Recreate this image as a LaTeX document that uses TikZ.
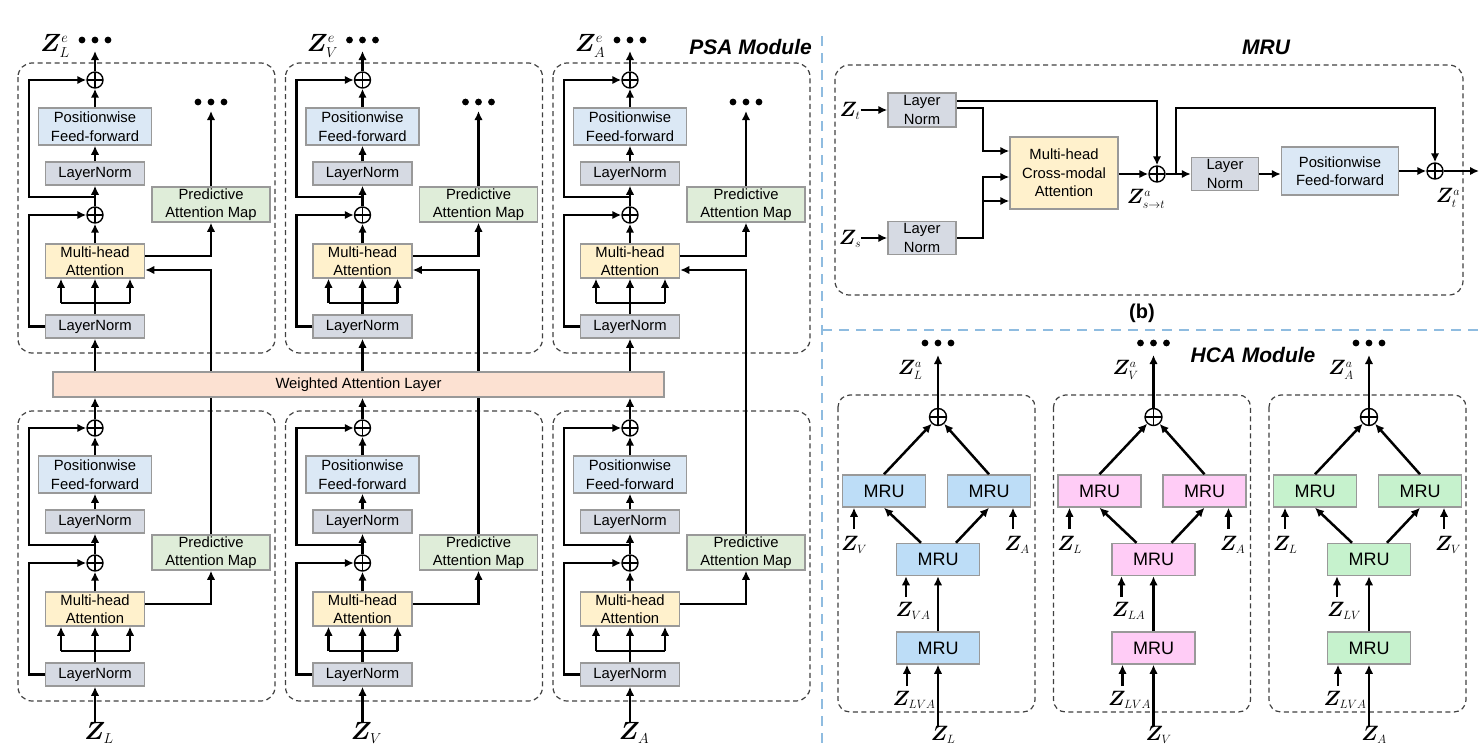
\documentclass[tikz,border=0pt]{standalone}
\usepackage{amsmath,amssymb,bm}
\usepackage{fontspec}
\setmainfont{Liberation Sans}
\usepackage{xcolor}
\usepackage{tikz}
\usetikzlibrary{arrows.meta,positioning,calc}

\DeclareMathSizes{24.88}{24.88}{14.4}{10}
\DeclareMathSizes{20.74}{20.74}{12}{9}

\definecolor{lnfill}{HTML}{D6DAE3}
\definecolor{fffill}{HTML}{DBE8F5}
\definecolor{mhfill}{HTML}{FFF1CC}
\definecolor{pamfill}{HTML}{DFEDD9}
\definecolor{walfill}{HTML}{FCE1D2}
\definecolor{boxline}{HTML}{999999}
\definecolor{sepblue}{HTML}{8FBCE0}
\definecolor{mrublue}{HTML}{BDDDF7}
\definecolor{mrupink}{HTML}{FFCCF6}
\definecolor{mrugreen}{HTML}{C6F2CD}

\begin{document}
\begin{tikzpicture}[
  x=1pt,y=-1pt,
  font=\fontsize{14.8}{18.5}\selectfont,
  blk/.style={draw=boxline,line width=1.5pt,align=center,inner sep=0pt},
  lnorm/.style={blk,fill=lnfill,minimum width=99pt,minimum height=23pt},
  ffwd/.style={blk,fill=fffill,minimum width=113pt,minimum height=37pt},
  mhatt/.style={blk,fill=mhfill,minimum width=99pt,minimum height=34pt},
  pmap/.style={blk,fill=pamfill,minimum width=118pt,minimum height=35pt},
  mru/.style={blk,minimum width=83pt,minimum height=32pt,font=\fontsize{18}{18}\selectfont},
  addop/.style={circle,draw,line width=1.4pt,minimum size=16pt,inner sep=0pt,
    path picture={\draw[line width=1.4pt] (path picture bounding box.north) -- (path picture bounding box.south)
      (path picture bounding box.west) -- (path picture bounding box.east);}},
  grp/.style={draw=black!75,line width=1.2pt,dash pattern=on 5pt off 3.5pt,rounded corners=14pt},
  sep/.style={draw=sepblue,line width=2.4pt,dash pattern=on 10pt off 7pt},
  arr/.style={-{Latex[length=9pt,width=8.5pt]},line width=2.5pt},
  wire/.style={line width=2.5pt},
  zbig/.style={inner sep=0pt,font=\fontsize{24.88}{25}\selectfont},
  zmid/.style={inner sep=0pt,font=\fontsize{20.74}{21}\selectfont},
  title/.style={inner sep=0pt,font=\fontsize{21}{21}\selectfont\bfseries\itshape}]
\useasboundingbox (0,0) rectangle (1484,747);

% PSA module
\foreach \n/\mo in {1/L,2/V,3/A}{
  \pgfmathsetmacro{\xm}{95+267.5*(\n-1)}
  \pgfmathsetmacro{\xp}{\xm+116}
  \foreach \bl/\yo in {T/0,B/348}{
    \draw[grp] (\xm-77,63+\yo) rectangle (\xm+180,353+\yo);
    \node[addop] (sumA\bl\n) at (\xm,80+\yo) {};
    \node[ffwd] (ff\bl\n) at (\xm,126.5+\yo) {Positionwise\\Feed-forward};
    \node[lnorm] (lnA\bl\n) at (\xm,173.5+\yo) {LayerNorm};
    \node[addop] (sumB\bl\n) at (\xm,215+\yo) {};
    \node[mhatt] (mha\bl\n) at (\xm,261+\yo) {Multi-head\\Attention};
    \node[lnorm] (lnB\bl\n) at (\xm,326.5+\yo) {LayerNorm};
    \node[pmap] (pam\bl\n) at (\xp,204.5+\yo) {Predictive\\Attention Map};
    \coordinate (jn\bl\n) at (\xm,197+\yo);
    \coordinate (skp\bl\n) at (\xm-66,197+\yo);
    \coordinate (spl\bl\n) at (\xm,303+\yo);
    \draw[arr] (ff\bl\n) -- (sumA\bl\n);
    \draw[arr] (lnA\bl\n) -- (ff\bl\n);
    \draw[arr] (sumB\bl\n) -- (lnA\bl\n);
    \draw[arr] (mha\bl\n) -- (sumB\bl\n);
    \draw[arr] (jn\bl\n) -- (skp\bl\n) |- (sumA\bl\n.west);
    \draw[arr] (lnB\bl\n.west) -- (lnB\bl\n.west -| skp\bl\n) |- (sumB\bl\n.west);
    \draw[wire] (lnB\bl\n) -- (spl\bl\n);
    \draw[wire] ([xshift=-34pt]spl\bl\n) -- ([xshift=35pt]spl\bl\n);
    \foreach \dx in {-34,0,35}
      \draw[arr] ([xshift=\dx pt]spl\bl\n) -- ([xshift=\dx pt]spl\bl\n |- mha\bl\n.south);
    \draw[arr] ([yshift=5pt]mha\bl\n.east) -| (pam\bl\n);
  }
  \coordinate (otip\n) at (\xm,51);
  \coordinate (odot\n) at (\xm,40);
  \draw[arr] (sumAT\n) -- (otip\n);
  \foreach \dx in {-13,0,13} \fill ([xshift=\dx pt]odot\n) circle (3.4pt);
  \node[zbig] (zout\n) at (\xm-40,46) {$\bm{Z}_{\mo}^{e}$};
  \coordinate (ptip\n) at (\xp,111);
  \coordinate (pdot\n) at (\xp,102);
  \draw[arr] (pamT\n) -- (ptip\n);
  \foreach \dx in {-13,0,13} \fill ([xshift=\dx pt]pdot\n) circle (3.4pt);
  \draw[arr] (pamB\n) |- ([yshift=-9pt]mhaT\n.east);
  \node[zbig] (zin\n) at (\xm+4,733) {$\bm{Z}_{\mo}$};
  \draw[arr] (zin\n.north -| lnBB\n.south) -- (lnBB\n);
}
\node[blk,fill=walfill,minimum width=611pt,minimum height=25pt] (wal) at (358.5,384.5) {Weighted Attention Layer};
\foreach \n in {1,2,3}{
  \draw[arr] (sumAB\n) -- (sumAB\n |- wal.south);
  \draw[arr] (wal.north -| lnBT\n) -- (lnBT\n);
}
\node[title,anchor=east] (psat) at (812,47) {PSA Module};

% separators
\draw[sep] (822,36) -- (822,747);
\draw[sep] (822,330) -- (1484,330);
\node[font=\fontsize{20}{20}\selectfont\bfseries] (blab) at (1142,313) {(b)};

% MRU
\node[title] (mrut) at (1266,47) {MRU};
\draw[grp] (835,65) rectangle (1463,295);
\node[blk,fill=lnfill,minimum width=68pt,minimum height=34pt] (lnt) at (922,110) {Layer\\Norm};
\node[blk,fill=lnfill,minimum width=68pt,minimum height=33pt] (lns) at (922,238) {Layer\\Norm};
\node[zmid] (zt) at (850,111) {$\bm{Z}_{t}$};
\node[zmid] (zs) at (850,239) {$\bm{Z}_{s}$};
\draw[arr] (zt.east |- lnt.west) -- (lnt.west);
\draw[arr] (zs.east |- lns.west) -- (lns.west);
\node[blk,fill=mhfill,minimum width=108pt,minimum height=72pt] (mhca) at (1064,173) {Multi-head\\Cross-modal\\Attention};
\node[addop] (sum1) at (1157,174) {};
\node[blk,fill=lnfill,minimum width=67pt,minimum height=33pt] (ln2) at (1225,174) {Layer\\Norm};
\node[blk,fill=fffill,minimum width=117pt,minimum height=48pt] (pff2) at (1340,171) {Positionwise\\Feed-forward};
\node[addop] (sum2) at (1435,171) {};
\coordinate (bendA) at (983,151);
\coordinate (bendB) at (983,177);
\coordinate (bendC) at (983,201);
\coordinate (bendD) at (1176,108);
\coordinate (mout) at (1479,171);
\draw[arr] ([yshift=9pt]lnt.east) -| (sum1.north);
\draw[arr] ([yshift=2pt]lnt.east) -| (bendA) -- (bendA -| mhca.west);
\draw[arr] (lns.east) -| (bendB) -- (bendB -| mhca.west);
\draw[arr] (bendC) -- (bendC -| mhca.west);
\draw[arr] (mhca.east |- sum1.west) -- (sum1.west);
\draw[arr] (sum1.east) -- (sum1.east -| ln2.west);
\draw[arr] (bendD |- sum1) -- (bendD) -| (sum2.north);
\draw[arr] (ln2.east) -- (ln2.east -| pff2.west);
\draw[arr] (pff2) -- (sum2);
\draw[arr] (sum2) -- (mout);
\node[zmid] (zst) at (1146,199) {$\bm{Z}^{a}_{s\to t}$};
\node[zmid] (zta) at (1448,198) {$\bm{Z}^{a}_{t}$};

% HCA module
\node[title] (hcat) at (1253,355) {HCA Module};
\foreach \n/\xc/\cf/\mo/\zl/\zr/\zm in {1/938/mrublue/L/V/A/VA,2/1153.5/mrupink/V/L/A/LA,3/1369/mrugreen/A/L/V/LV}{
  \draw[grp,rounded corners=12pt] (\xc-100,395) rectangle (\xc+97,712);
  \node[addop,minimum size=17pt] (hsum\n) at (\xc,417) {};
  \node[mru,fill=\cf] (mruL\n) at (\xc-54,491) {MRU};
  \node[mru,fill=\cf] (mruR\n) at (\xc+51,491) {MRU};
  \node[mru,fill=\cf] (mruM\n) at (\xc,559.5) {MRU};
  \node[mru,fill=\cf] (mruB\n) at (\xc,648) {MRU};
  \draw[arr] (mruL\n.north) -- (hsum\n);
  \draw[arr] (mruR\n.north) -- (hsum\n);
  \draw[arr] ([xshift=-17pt]mruM\n.north) -- (mruL\n.south);
  \draw[arr] ([xshift=18pt]mruM\n.north) -- (mruR\n.south);
  \draw[arr] (mruB\n) -- (mruM\n);
  \coordinate (htip\n) at (\xc,355);
  \coordinate (hdot\n) at (\xc,343);
  \draw[arr] (hsum\n) -- (htip\n);
  \foreach \dx in {-13,0,13} \fill ([xshift=\dx pt]hdot\n) circle (3.4pt);
  \node[zmid] (hout\n) at (\xc-28,370) {$\bm{Z}^{a}_{\mo}$};
  \coordinate (al\n) at (\xc-84,529);
  \coordinate (ar\n) at (\xc+75,529);
  \coordinate (am\n) at (\xc-32,597);
  \coordinate (ab\n) at (\xc-31,686);
  \draw[arr] (al\n) -- (al\n |- mruL\n.south);
  \draw[arr] (ar\n) -- (ar\n |- mruR\n.south);
  \draw[arr] (am\n) -- (am\n |- mruM\n.south);
  \draw[arr] (ab\n) -- (ab\n |- mruB\n.south);
  \node[zmid] (hzl\n) at (\xc-84,545) {$\bm{Z}_{\zl}$};
  \node[zmid] (hzr\n) at (\xc+79,545) {$\bm{Z}_{\zr}$};
  \node[zmid] (hzm\n) at (\xc-25,611) {$\bm{Z}_{\zm}$};
  \node[zmid] (hzb\n) at (\xc-24,700) {$\bm{Z}_{LVA}$};
  \node[zmid] (hin\n) at (\xc+5,735) {$\bm{Z}_{\mo}$};
  \draw[arr] (hin\n.north -| mruB\n.south) -- (mruB\n);
}
\end{tikzpicture}
\end{document}
